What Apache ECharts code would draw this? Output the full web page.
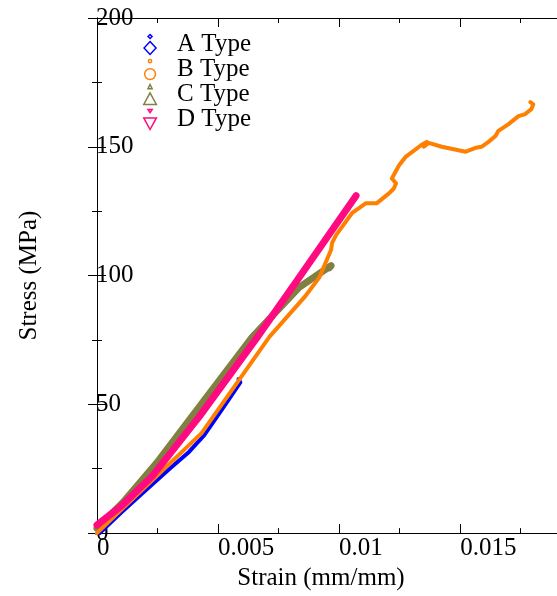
<!DOCTYPE html>
<html>
<head>
<meta charset="utf-8">
<script src="https://cdn.jsdelivr.net/npm/echarts@6/dist/echarts.min.js"></script>
<style>
  html, body { margin: 0; padding: 0; background: #fff; }
  #chart { width: 557px; height: 596px; }
</style>
</head>
<body>
<div id="chart"></div>
<script>
// strain (mm/mm), stress (MPa)
const typeA = [[0, -1], [0.0005, 3.5], [0.001, 8], [0.002, 16.5], [0.003, 25], [0.0038, 31.5],
  [0.00443, 38], [0.0052, 48.5], [0.00592, 58.5], [0.00585, 59.8]];
const typeB = [[0, 0], [0.001, 9], [0.002, 18], [0.00432, 38.8], [0.00712, 76.2], [0.00856, 91.5],
  [0.00918, 99.2], [0.00967, 110], [0.00971, 112.7], [0.00988, 115.8], [0.01053, 124.2],
  [0.01111, 128.1], [0.01156, 128.1], [0.01206, 131.9], [0.01226, 133.8], [0.01235, 135.8],
  [0.01218, 137.7], [0.01247, 142.7], [0.01276, 146.2], [0.01309, 148.5], [0.01341, 150.8],
  [0.01362, 151.9], [0.0135, 150], [0.0137, 151.5], [0.01424, 150], [0.01523, 148.1],
  [0.01564, 149.6], [0.01588, 150], [0.01617, 151.9], [0.01646, 154.2], [0.01658, 156.2],
  [0.017, 158.8], [0.01741, 161.9], [0.01769, 162.7], [0.01794, 164.6], [0.01802, 166.5],
  [0.0179, 167.3]];
const typeC = [[0, 1.9], [0.00107, 11.9], [0.00247, 27.3], [0.00424, 49.2], [0.00642, 76.2],
  [0.00835, 95.4], [0.0093, 101.5], [0.00967, 103.8], [0.0096, 103]];
const typeD = [[0, 3.1], [0.001, 10.5], [0.0023, 22.3], [0.00424, 45.4], [0.00663, 76.2],
  [0.00835, 99.2], [0.0097, 117.5], [0.0107, 131]];

const seriesNames = ["A Type", "B Type", "C Type", "D Type"];
const seriesColors = ["#0000ff", "#ff8000", "#808040", "#ff0a80"];
const xMajorTicks = [0, 0.005, 0.01, 0.015];
const xMinorTicks = [0.0025, 0.0075, 0.0125, 0.0175];

const FONT = "Liberation Serif";

// legend icons: small marker above a larger hollow one
const legendIcons = [
  "path://M7,0 L9,2 L7,4 L5,2 Z M7,7 L13,13.5 L7,20 L1,13.5 Z",
  "path://M5.5,2 A1.5,1.5 0 1,0 8.5,2 A1.5,1.5 0 1,0 5.5,2 Z M2,14 A5,5 0 1,0 12,14 A5,5 0 1,0 2,14 Z",
  "path://M7,0 L9,4 L5,4 Z M7,8 L13,19 L1,19 Z",
  "path://M5,0 L9,0 L7,3 Z M1,8 L13,8 L7,19 Z"
];

const chart = echarts.init(document.getElementById("chart"), null, { renderer: "canvas" });

function xAxisDef(pos, ticks, len, labels, showLine) {
  return {
    type: "value", position: pos, min: 0, max: 0.019,
    axisLine: { show: showLine, lineStyle: { color: "#000", width: 1 } },
    axisTick: { show: true, inside: true, length: len, customValues: ticks,
      lineStyle: { color: "#000", width: 1 } },
    axisLabel: labels ? {
      show: true, customValues: ticks, align: "left", margin: 3,
      fontFamily: FONT, fontSize: 25, color: "#000",
      formatter: v => String(v)
    } : { show: false },
    splitLine: { show: false },
    name: labels ? "Strain (mm/mm)" : "",
    nameLocation: "middle", nameGap: 32,
    nameTextStyle: { fontFamily: FONT, fontSize: 25, color: "#000", padding: [0, 12, 0, 0] }
  };
}

function yAxisDef(pos, labels) {
  return {
    type: "value", position: pos, min: 0, max: 200, interval: 50,
    axisLine: { show: true, lineStyle: { color: "#000", width: 1 } },
    axisTick: { show: true, inside: true, length: 9, lineStyle: { color: "#000" } },
    minorTick: { show: true, splitNumber: 2, length: 5, lineStyle: { color: "#000" } },
    axisLabel: labels ? {
      show: true, align: "left", margin: 1,
      fontFamily: FONT, fontSize: 25, color: "#000"
    } : { show: false },
    splitLine: { show: false },
    name: labels ? "Stress (MPa)" : "",
    nameLocation: "middle", nameGap: 55,
    nameTextStyle: { fontFamily: FONT, fontSize: 25, color: "#000" }
  };
}

const dataSets = [typeA, typeB, typeC, typeD];
const widths = [4, 4, 7, 7];
const zOrder = [2, 3, 1, 4];

const option = {
  animation: false,
  backgroundColor: "#fff",
  grid: { left: 97, top: 18, bottom: 58, right: -2 },
  legend: {
    orient: "vertical", left: 138, top: 27,
    itemWidth: 14, itemHeight: 20, itemGap: 0,
    textStyle: { fontFamily: FONT, fontSize: 25, lineHeight: 23, color: "#000", padding: [0, 0, 0, 15] },
    data: seriesNames.map((n, i) => ({
      name: n, icon: legendIcons[i],
      itemStyle: { color: "rgba(0,0,0,0)", borderColor: seriesColors[i], borderWidth: 1.5 }
    }))
  },
  xAxis: [
    xAxisDef("bottom", xMajorTicks, 9, true, true),
    xAxisDef("bottom", xMinorTicks, 5, false, false),
    xAxisDef("top", xMajorTicks, 9, false, true),
    xAxisDef("top", xMinorTicks, 5, false, false)
  ],
  yAxis: [yAxisDef("left", true), yAxisDef("right", false)],
  series: dataSets.map((d, i) => ({
    name: seriesNames[i], type: "line", data: d,
    xAxisIndex: 0, yAxisIndex: 0,
    symbol: "none", smooth: false, z: zOrder[i],
    color: seriesColors[i],
    lineStyle: { color: seriesColors[i], width: widths[i], cap: "round", join: "round" }
  }))
};

chart.setOption(option);
</script>
</body>
</html>
